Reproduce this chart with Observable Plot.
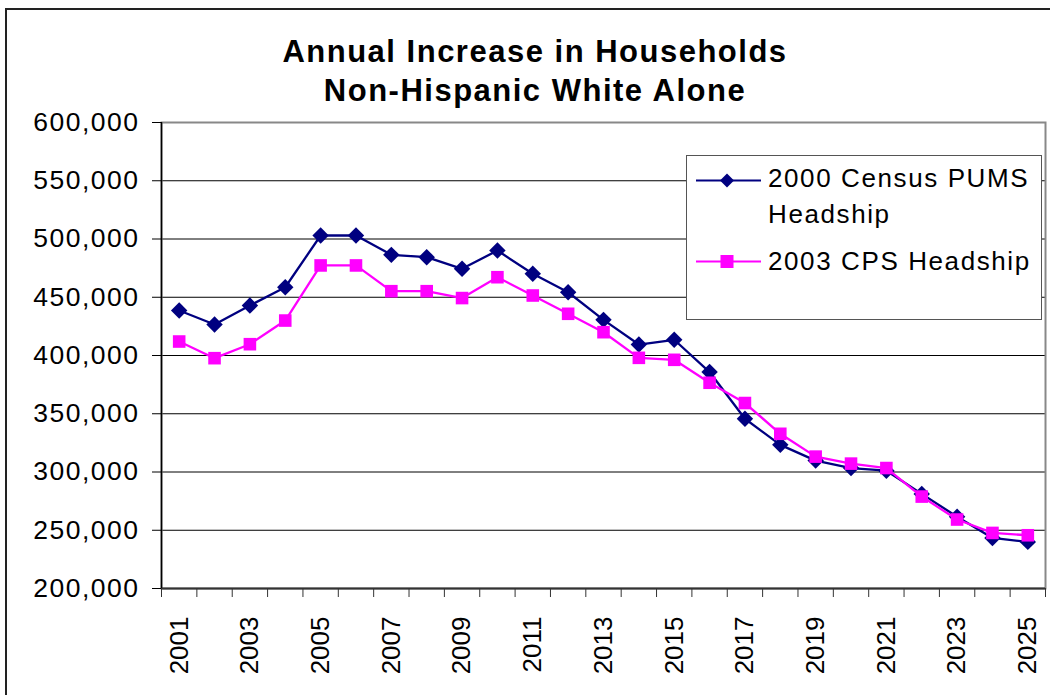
<!DOCTYPE html>
<html>
<head>
<meta charset="utf-8">
<script src="https://cdn.jsdelivr.net/npm/d3@7"></script>
<script src="https://cdn.jsdelivr.net/npm/@observablehq/plot@0.6"></script>
<style>
  html, body { margin: 0; padding: 0; background: #fff; }
  #wrap { position: relative; width: 1050px; height: 695px; overflow: hidden; background: #fff; font-family: Arial, "Liberation Sans", sans-serif; }
  #frame { position: absolute; left: 5px; top: 8px; width: 1058px; height: 720px; border: 2px solid #222; pointer-events: none; }
  #title { position: relative; width: 1070px; height: 110px; box-sizing: border-box; padding-top: 32px; text-align: center; font-weight: bold; font-size: 31px; line-height: 39px; letter-spacing: 1.5px; color: #000; }
  #legend { position: absolute; left: 686px; top: 155px; width: 356px; height: 165px; box-sizing: border-box; border: 1.5px solid #555; background: #fff; }
  #chart svg { display: block; }
</style>
</head>
<body>
<div id="wrap">
  <div id="title">Annual Increase in Households<br>Non-Hispanic White Alone</div>
  <div id="chart"></div>
  <div id="legend"></div>
  <div id="frame"></div>
</div>
<script>
const years = [2001,2002,2003,2004,2005,2006,2007,2008,2009,2010,2011,2012,2013,2014,2015,2016,2017,2018,2019,2020,2021,2022,2023,2024,2025];
const census = [438600,426600,442900,458600,503000,503000,486400,484400,474400,490100,470100,454300,430600,409400,413500,385800,345700,323300,309800,303400,301100,281200,261600,243400,240000];
const cps = [412000,397700,409700,430000,477300,477300,455200,455200,449300,467200,451500,435800,420000,398000,396300,376600,359200,332800,313200,307200,303400,278900,259200,247700,245700];
const seriesNames = ["2000 Census PUMS Headship", "2003 CPS Headship"];
const yTicks = [200000,250000,300000,350000,400000,450000,500000,550000,600000];
const xLabelYears = [2001,2003,2005,2007,2009,2011,2013,2015,2017,2019,2021,2023,2025];

const navy = "#000080", pink = "#FF00FF";
const censusRows = years.map((y, i) => ({year: y, value: census[i]}));
const cpsRows = years.map((y, i) => ({year: y, value: cps[i]}));
const boundaries = [years[0] - 0.5, ...years.map(y => y + 0.5)];
const gridTicks = yTicks.slice(1, -1);

const chart = Plot.plot({
  width: 1050,
  height: 585,
  marginTop: 12,
  marginBottom: 107,
  marginLeft: 161,
  marginRight: 5,
  style: {fontFamily: 'Arial, "Liberation Sans", sans-serif', color: "#000", background: "transparent", overflow: "visible"},
  x: {domain: [years[0] - 0.5, years[years.length - 1] + 0.5], label: null},
  y: {domain: [200000, 600000], label: null},
  marks: [
    Plot.ruleY(gridTicks, {stroke: "#000", strokeWidth: 1}),
    Plot.frame({stroke: "#888", strokeWidth: 2}),
    Plot.ruleY([200000], {stroke: "#333", strokeWidth: 2}),
    Plot.ruleX([years[0] - 0.5], {stroke: "#000", strokeWidth: 1.5}),
    Plot.axisY({ticks: yTicks, tickFormat: d3.format(","), tickSize: 9, tickPadding: 13, fontSize: 26.5, label: null, stroke: "#000"}),
    Plot.axisX({ticks: boundaries, tickFormat: () => "", tickSize: 9, label: null, stroke: "#333"}),
    Plot.axisX({ticks: xLabelYears, tickFormat: d3.format("d"), tickSize: 0, tickPadding: 28, tickRotate: -90, fontSize: 26, label: null}),
    Plot.line(censusRows, {x: "year", y: "value", stroke: navy, strokeWidth: 2.3}),
    Plot.dot(censusRows, {x: "year", y: "value", symbol: "diamond2", r: 7.4, fill: navy, stroke: "none"}),
    Plot.line(cpsRows, {x: "year", y: "value", stroke: pink, strokeWidth: 2.3}),
    Plot.dot(cpsRows, {x: "year", y: "value", symbol: "square", r: 7.1, fill: pink, stroke: "none"})
  ]
});
document.getElementById("chart").appendChild(chart);
d3.select(chart).selectAll("[aria-label='y-axis tick label'] text").attr("letter-spacing", "1.5px");

// Legend
const lg = d3.select("#legend").append("svg").attr("width", 353).attr("height", 162)
  .style("font-family", 'Arial, "Liberation Sans", sans-serif').style("font-size", "26px");
const rows = [
  {name: seriesNames[0], color: navy, sym: "diamond", ly: 24.5, lines: ["2000 Census PUMS", "Headship"], tb: 31},
  {name: seriesNames[1], color: pink, sym: "square", ly: 105.5, lines: ["2003 CPS Headship"], tb: 113.5}
];
rows.forEach(r => {
  lg.append("line").attr("x1", 9).attr("x2", 74).attr("y1", r.ly).attr("y2", r.ly).attr("stroke", r.color).attr("stroke-width", 2);
  if (r.sym === "diamond") {
    lg.append("path").attr("d", `M40,${r.ly-7}L47,${r.ly}L40,${r.ly+7}L33,${r.ly}Z`).attr("fill", r.color);
  } else {
    lg.append("rect").attr("x", 33.5).attr("y", r.ly - 6.5).attr("width", 13).attr("height", 13).attr("fill", r.color);
  }
  r.lines.forEach((t, i) => {
    lg.append("text").attr("x", 81).attr("y", r.tb + i * 36).attr("letter-spacing", "1.6px").attr("fill", "#000").text(t);
  });
});
</script>
</body>
</html>
